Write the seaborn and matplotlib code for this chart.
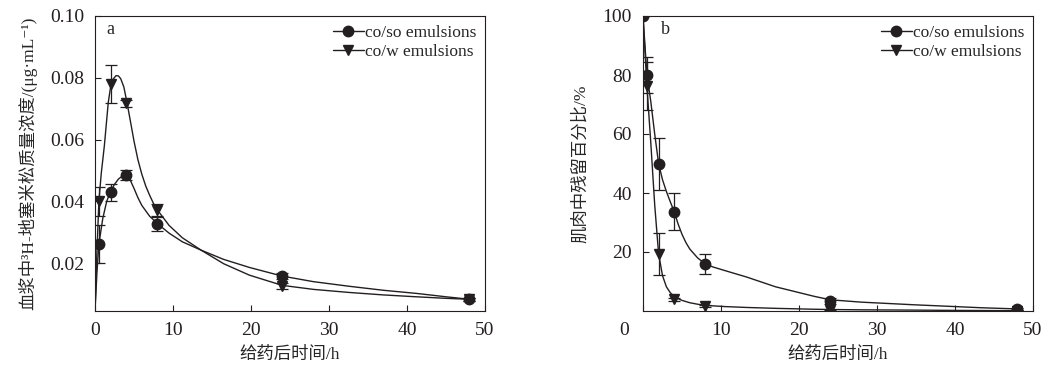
import numpy as np
import pandas as pd
import matplotlib
matplotlib.use("Agg")
import matplotlib.pyplot as plt
import matplotlib.transforms as mtransforms
from matplotlib.lines import Line2D
import seaborn as sns

# measured points (time in h)
t_pts = [0.5, 2, 4, 8, 24, 48]
a_coso = [0.0262, 0.0429, 0.0485, 0.0326, 0.0158, 0.0083]
a_coso_err = [0.0062, 0.0027, 0.0016, 0.0023, 0.0011, 0.0005]
a_cow = [0.0400, 0.0780, 0.0717, 0.0372, 0.0126, 0.0083]
a_cow_err = [0.0046, 0.0062, 0.0010, 0.0020, 0.0010, 0.0005]

t_pts_b = [0, 0.5, 2, 4, 8, 24, 48]
b_coso = [100, 80.0, 49.7, 33.7, 15.9, 3.5, 0.7]
b_coso_err = [0, 6.2, 8.8, 6.4, 3.5, 1.0, 0.3]
b_cow = [100, 76.3, 19.4, 4.0, 1.7, 0.3, 0.1]
b_cow_err = [0, 8.0, 7.2, 0.5, 0.4, 0.2, 0.1]

# fitted curves
fit_a_coso_t = [0, 0.25, 0.5, 1.0, 1.5, 2.0, 2.5, 3.0, 3.5, 4.0, 4.5, 5.0, 5.5, 6.0, 7.0, 8.0, 9.5, 11.2, 13.6, 16.5, 19.8, 24, 28, 32.6, 37, 41.2, 45, 48]
fit_a_coso = [0.0045, 0.017, 0.0262, 0.0345, 0.0400, 0.0432, 0.0455, 0.0472, 0.0482, 0.0487, 0.0470, 0.0442, 0.0412, 0.0387, 0.0352, 0.0328, 0.0297, 0.0269, 0.0242, 0.0212, 0.0186, 0.0158, 0.0140, 0.0125, 0.0112, 0.0102, 0.0091, 0.0083]
fit_a_cow_t = [0, 0.25, 0.5, 0.8, 1.2, 1.7, 2.0, 2.3, 2.7, 3.0, 3.3, 3.7, 4.1, 4.5, 5.0, 5.5, 6.0, 6.5, 7.0, 7.5, 8.0, 9.5, 11.2, 13.6, 16.5, 19.8, 24, 28, 32.6, 37, 41.2, 45, 48]
fit_a_cow = [0.0045, 0.024, 0.0400, 0.049, 0.0580, 0.0720, 0.0770, 0.0795, 0.0807, 0.0806, 0.0797, 0.0770, 0.0720, 0.0665, 0.0595, 0.0535, 0.0488, 0.0450, 0.0420, 0.0393, 0.0372, 0.0322, 0.0282, 0.0242, 0.0198, 0.0161, 0.0128, 0.0115, 0.0105, 0.0097, 0.0091, 0.0086, 0.0083]

fit_b_coso_t = [0, 0.5, 1.0, 1.5, 2.0, 2.5, 3.0, 3.5, 4.0, 4.5, 5.0, 5.5, 6.0, 7.0, 8.0, 9.0, 10.5, 13.3, 17, 21.9, 24, 28, 34.8, 40, 43.4, 48]
fit_b_coso = [100, 80, 71, 60, 50.0, 44.5, 40.5, 37.0, 33.7, 29.5, 26.0, 23.2, 21.0, 18.0, 15.9, 14.9, 13.7, 11.5, 8.2, 5.0, 3.8, 3.0, 2.1, 1.5, 1.1, 0.7]
fit_b_cow_t = [0, 0.5, 1.0, 1.5, 2.0, 2.5, 3.0, 3.5, 4.0, 4.5, 5.0, 6.0, 7.0, 8.0, 10.5, 13.3, 17, 21.9, 24, 28, 34.8, 40, 48]
fit_b_cow = [100, 76.3, 57, 36, 19.4, 12.0, 8.2, 6.2, 4.9, 4.2, 3.6, 2.8, 2.3, 1.9, 1.5, 1.2, 0.9, 0.6, 0.5, 0.4, 0.3, 0.2, 0.1]

labels = ["co/so emulsions", "co/w emulsions"]
ylabel_a = "血浆中³H-地塞米松质量浓度/(μg·mL⁻¹)"
ylabel_b = "肌肉中残留百分比/%"
xlabel = "给药后时间/h"

sns.set_style("ticks")
plt.rcParams['font.family'] = ['Liberation Serif', 'Noto Sans CJK SC', 'DejaVu Serif']
plt.rcParams['font.size'] = 12.5
plt.rcParams['axes.linewidth'] = 0.8

fig = plt.figure(figsize=(10.58, 3.72), dpi=100)
ax_a = fig.add_axes([95 / 1058, 61 / 372, 390 / 1058, 295 / 372])
ax_b = fig.add_axes([643 / 1058, 61 / 372, 390 / 1058, 295 / 372])

def draw(ax, t1, f1, t2, f2, tp, y1, e1, y2, e2):
    curves = pd.DataFrame({"t": t1 + t2, "y": f1 + f2,
                           "g": [labels[0]] * len(t1) + [labels[1]] * len(t2)})
    sns.lineplot(data=curves, x="t", y="y", units="g", estimator=None,
                 color="#231f20", linewidth=1.0, ax=ax, legend=False)
    ax.errorbar(tp, y1, yerr=e1, fmt="o", color="#231f20", ms=7.5, capsize=4,
                elinewidth=0.9, capthick=0.9, zorder=3)
    ax.errorbar(tp, y2, yerr=e2, fmt="v", color="#231f20", ms=7.5, capsize=4,
                elinewidth=0.9, capthick=0.9, zorder=3)
    handles = [Line2D([], [], color="#231f20", marker="o", ms=7.5, lw=1.0),
               Line2D([], [], color="#231f20", marker="v", ms=7.5, lw=1.0)]
    ax.legend(handles, labels, loc="upper right", frameon=False, fontsize=12.5,
              handlelength=1.8, handletextpad=0.05, labelspacing=0.2,
              borderaxespad=0.3, borderpad=0.2)
    ax.set_xlim(0, 50)
    ax.set_xticks([0, 10, 20, 30, 40, 50])
    ax.tick_params(direction="in", length=4, width=0.8, pad=8, colors="#231f20",
                   labelcolor="#231f20", labelsize=14)
    ax.set_xlabel(xlabel, labelpad=6)
    for s in ax.spines.values():
        s.set_visible(True)
        s.set_color("#231f20")

draw(ax_a, fit_a_coso_t, fit_a_coso, fit_a_cow_t, fit_a_cow,
     t_pts, a_coso, a_coso_err, a_cow, a_cow_err)
ax_a.set_ylim(0.0045, 0.10)
ax_a.set_yticks([0.02, 0.04, 0.06, 0.08, 0.10])
ax_a.set_yticklabels(["0.02", "0.04", "0.06", "0.08", "0.10"])
ax_a.set_ylabel(ylabel_a, labelpad=9)
ax_a.text(0.03, 0.955, "a", transform=ax_a.transAxes, va="center", ha="left", fontsize=13)

draw(ax_b, fit_b_coso_t, fit_b_coso, fit_b_cow_t, fit_b_cow,
     t_pts_b, b_coso, b_coso_err, b_cow, b_cow_err)
ax_b.set_ylim(0, 100)
ax_b.set_yticks([20, 40, 60, 80, 100])
ax_b.set_ylabel(ylabel_b, labelpad=10)
ax_b.text(0.047, 0.955, "b", transform=ax_b.transAxes, va="center", ha="left", fontsize=13)
# the "0" label of panel b sits left of the axis
lbl0 = ax_b.get_xticklabels()[0]
lbl0.set_transform(lbl0.get_transform() + mtransforms.ScaledTranslation(-19 / 100, 0, fig.dpi_scale_trans))

fig.savefig("out.png", dpi=100)
plt.close(fig)
